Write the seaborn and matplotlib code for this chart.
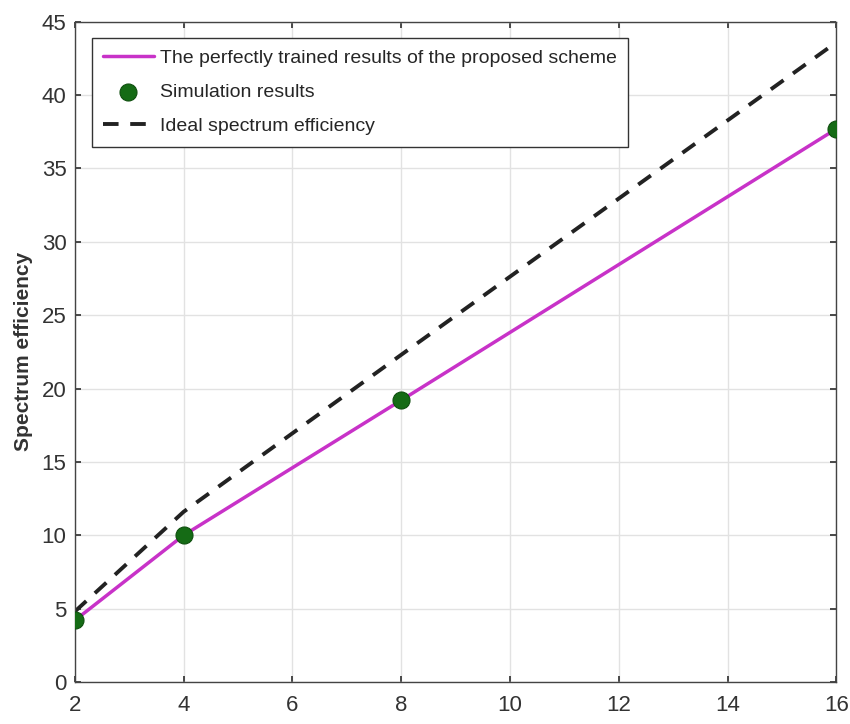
import matplotlib
matplotlib.use("Agg")
import matplotlib.pyplot as plt
import seaborn as sns
import pandas as pd

# Data
antennas = [2, 4, 8, 16]
trained = [4.2, 10.0, 19.2, 37.7]
simulation = [4.2, 10.0, 19.2, 37.7]
ideal = [4.8, 11.6, 22.3, 43.6]
x_ticks = [2, 4, 6, 8, 10, 12, 14, 16]
y_ticks = [0, 5, 10, 15, 20, 25, 30, 35, 40, 45]

sns.set_theme(style="whitegrid")
plt.rcParams['font.family'] = ['Liberation Sans', 'DejaVu Sans']

fig = plt.figure(figsize=(8.5, 7.24), dpi=100)
ax = fig.add_axes([0.088, 0.058, 0.896, 0.912])

df_tr = pd.DataFrame({"x": antennas, "y": trained})
df_sim = pd.DataFrame({"x": antennas, "y": simulation})
df_id = pd.DataFrame({"x": antennas, "y": ideal})

sns.lineplot(data=df_tr, x="x", y="y", ax=ax, color="#c832c8", linewidth=2.5,
             label="The perfectly trained results of the proposed scheme")
sns.scatterplot(data=df_sim, x="x", y="y", ax=ax, color="#156b15", s=150,
                edgecolor="#0e4f0e", linewidth=0.8, zorder=5, label="Simulation results")
sns.lineplot(data=df_id, x="x", y="y", ax=ax, color="#222222", linewidth=2.8,
             label="Ideal spectrum efficiency")
ax.lines[-1].set_dashes([4, 3])

ax.set_xlim(2, 16)
ax.set_ylim(0, 45)
ax.set_xticks(x_ticks)
ax.set_yticks(y_ticks)
ax.set_xlabel("")
ax.set_ylabel("Spectrum efficiency", fontsize=15, fontweight="bold", color="#333333", labelpad=6)
ax.tick_params(axis="both", labelsize=16, colors="#333333", length=4, direction="in")
ax.tick_params(axis="x", pad=9)
ax.tick_params(axis="y", pad=6)
ax.tick_params(axis="both", which="both", bottom=True, left=True, top=True, right=True)
ax.grid(True, color="#e2e2e2", linewidth=1.0)
ax.set_facecolor("white")
for s in ax.spines.values():
    s.set_visible(True)
    s.set_color("#444444")
    s.set_linewidth(1.0)

leg = ax.legend(loc="upper left", bbox_to_anchor=(0.022, 0.976), borderaxespad=0,
                fontsize=14, frameon=True, fancybox=False, edgecolor="#333333",
                framealpha=1, borderpad=0.6, handlelength=2.6, labelspacing=0.85,
                handletextpad=0.3)
leg.get_frame().set_linewidth(1.0)

fig.savefig("out.png", dpi=100)
